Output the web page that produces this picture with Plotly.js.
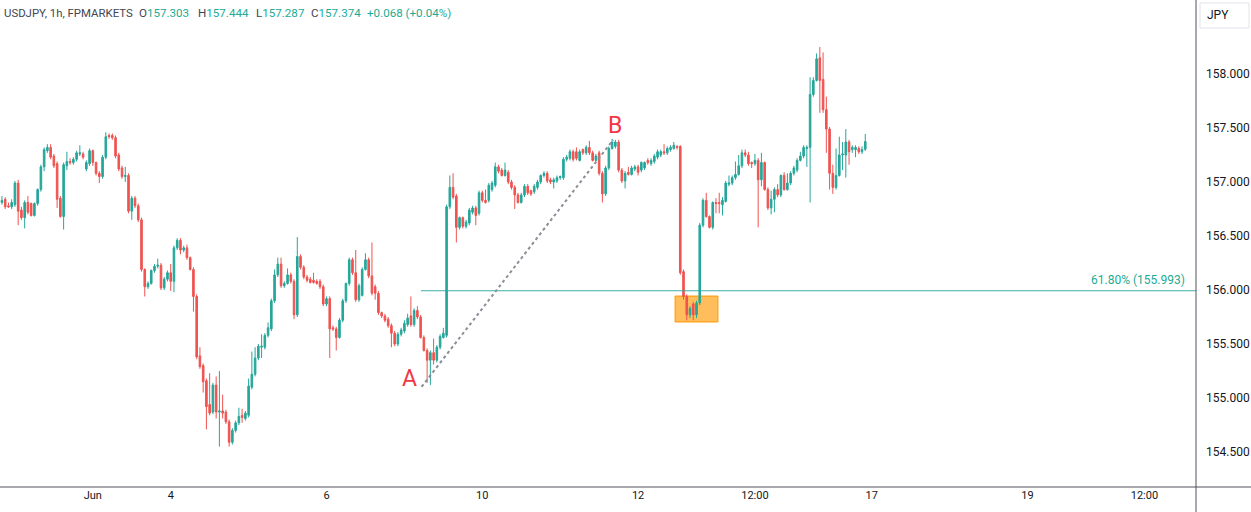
<!DOCTYPE html>
<html>
<head>
<meta charset="utf-8">
<script src="https://cdn.plot.ly/plotly-3.0.1.min.js"></script>
<style>
html,body{margin:0;padding:0;background:#fff;}
#chart{width:1251px;height:512px;}
</style>
</head>
<body>
<div id="chart"></div>
<script>
// USDJPY 1h candles (FPMARKETS), one per trading hour
const openP = [
156.81,156.84,156.78,156.77,156.79,156.99,156.74,156.67,156.81,156.80,
156.69,156.80,156.93,157.14,157.29,157.32,157.24,157.17,156.85,156.68,
157.15,157.19,157.18,157.21,157.26,157.26,157.12,157.17,157.29,157.18,
157.08,157.05,157.23,157.43,157.43,157.41,157.25,157.13,157.05,157.06,
156.73,156.85,156.78,156.65,156.19,156.03,156.06,156.18,156.22,156.23,
156.02,156.10,156.16,156.08,156.39,156.46,156.37,156.39,156.30,156.19,
155.94,155.39,155.30,155.16,154.94,154.87,155.12,154.87,154.88,154.87,
154.78,154.59,154.70,154.77,154.84,154.81,154.84,155.10,155.22,155.37,
155.47,155.47,155.58,155.64,155.90,156.14,156.24,156.04,156.06,156.14,
156.08,155.77,156.31,156.21,156.12,156.10,156.09,156.08,156.08,156.03,
155.87,155.92,155.65,155.64,155.56,155.72,155.90,156.06,156.28,156.16,
155.91,155.95,156.19,156.28,156.13,156.03,155.97,155.79,155.76,155.73,
155.67,155.60,155.50,155.59,155.62,155.68,155.76,155.68,155.81,155.75,
155.56,155.44,155.35,155.42,155.35,155.47,155.56,155.58,156.77,156.95,
156.87,156.58,156.67,156.59,156.62,156.72,156.76,156.71,156.90,156.83,
156.83,156.93,156.97,157.14,157.11,157.06,157.09,157.00,156.95,156.88,
156.81,156.88,156.96,156.92,156.91,156.95,157.00,157.06,157.08,157.02,
157.00,157.01,157.04,157.04,157.21,157.22,157.28,157.28,157.20,157.30,
157.27,157.32,157.27,157.20,157.27,157.08,156.89,157.13,157.31,157.33,
157.37,157.11,157.01,157.09,157.07,157.12,157.14,157.11,157.13,157.20,
157.17,157.19,157.23,157.25,157.28,157.27,157.30,157.31,157.33,157.33,
156.17,155.94,155.77,155.87,155.77,155.88,156.60,156.83,156.68,156.58,
156.81,156.81,156.79,156.82,156.98,156.99,157.04,157.07,157.15,157.27,
157.25,157.18,157.17,157.20,157.02,157.18,156.93,156.76,156.84,156.93,
156.88,157.06,156.93,156.99,157.08,157.11,157.20,157.24,157.31,157.32,
157.81,157.94,158.15,157.95,157.67,157.49,157.08,156.95,157.06,157.25,
157.25,157.37,157.30,157.30,157.31,157.28,157.303];
const highP = [
156.87,156.86,156.81,156.84,157.01,157.02,156.77,156.83,156.87,156.81,
156.81,156.94,157.16,157.32,157.35,157.35,157.26,157.19,156.87,157.18,
157.28,157.22,157.23,157.29,157.34,157.28,157.20,157.31,157.30,157.19,
157.10,157.25,157.46,157.45,157.45,157.43,157.27,157.15,157.14,157.08,
156.87,156.87,156.80,156.67,156.20,156.08,156.19,156.24,156.29,156.25,
156.12,156.18,156.24,156.41,156.48,156.48,156.41,156.42,156.31,156.21,
155.96,155.47,155.32,155.18,155.23,155.14,155.20,155.25,155.03,154.89,
154.80,154.72,154.79,154.91,154.90,154.88,155.18,155.43,155.47,155.50,
155.59,155.60,155.70,155.92,156.19,156.30,156.30,156.08,156.20,156.16,
156.10,156.49,156.33,156.23,156.14,156.12,156.16,156.10,156.10,156.05,
155.94,155.94,155.67,155.66,155.74,155.92,156.07,156.30,156.30,156.37,
156.06,156.21,156.34,156.30,156.44,156.05,155.99,155.80,155.78,155.75,
155.69,155.62,155.61,155.65,155.72,155.78,155.94,155.83,155.85,155.77,
155.58,155.46,155.44,155.55,155.49,155.59,155.65,156.79,157.06,157.08,
156.89,156.68,156.68,156.65,156.76,156.78,156.78,156.92,156.92,156.93,
156.99,157.01,157.18,157.16,157.13,157.18,157.11,157.02,156.97,156.90,
156.90,156.98,156.98,156.93,156.98,157.02,157.07,157.10,157.10,157.04,
157.04,157.06,157.06,157.23,157.25,157.30,157.30,157.32,157.30,157.31,
157.34,157.38,157.29,157.26,157.29,157.10,157.15,157.33,157.40,157.39,
157.39,157.13,157.10,157.14,157.15,157.16,157.16,157.19,157.19,157.22,
157.22,157.26,157.30,157.30,157.35,157.33,157.34,157.37,157.34,157.34,
156.19,155.96,155.85,155.89,155.90,156.62,156.85,156.90,156.69,156.82,
156.85,156.90,156.86,157.01,157.06,157.06,157.19,157.25,157.30,157.30,
157.28,157.19,157.26,157.22,157.27,157.19,156.95,156.92,156.95,156.98,
157.07,157.09,157.08,157.10,157.15,157.22,157.28,157.34,157.34,157.97,
157.97,158.19,158.25,158.20,157.79,157.51,157.16,157.31,157.42,157.37,
157.49,157.39,157.34,157.34,157.33,157.33,157.444];
const lowP = [
156.79,156.75,156.76,156.75,156.77,156.60,156.65,156.57,156.70,156.68,
156.68,156.78,156.91,157.10,157.27,157.21,157.13,156.76,156.67,156.56,
157.11,157.16,157.16,157.19,157.24,157.21,157.10,157.15,157.15,157.06,
156.99,157.03,157.21,157.40,157.39,157.22,157.10,157.03,157.00,156.71,
156.65,156.76,156.63,156.17,155.94,156.01,156.05,156.16,156.20,156.00,
156.00,156.08,155.99,155.98,156.37,156.33,156.35,156.28,156.18,155.80,
155.36,155.27,155.05,154.71,154.84,154.85,154.81,154.55,154.81,154.76,
154.55,154.57,154.68,154.75,154.77,154.79,154.82,155.08,155.20,155.35,
155.37,155.45,155.56,155.62,155.88,156.12,156.02,156.02,156.05,156.06,
155.73,155.75,156.19,156.10,156.07,156.06,156.06,156.05,156.01,155.85,
155.85,155.37,155.62,155.44,155.55,155.70,155.88,156.04,156.14,155.89,
155.89,155.94,156.18,156.11,155.95,155.91,155.77,155.74,155.70,155.65,
155.47,155.48,155.48,155.57,155.60,155.66,155.66,155.66,155.73,155.55,
155.43,155.14,155.12,155.31,155.33,155.45,155.55,155.56,156.75,156.84,
156.44,156.56,156.57,156.57,156.60,156.70,156.60,156.69,156.81,156.80,
156.81,156.91,156.95,157.08,157.05,157.05,156.98,156.93,156.75,156.80,
156.80,156.86,156.88,156.87,156.89,156.93,156.98,157.04,156.99,156.98,
156.94,156.99,157.02,157.02,157.19,157.20,157.19,157.20,157.19,157.25,
157.25,157.25,157.19,157.19,157.06,156.81,156.87,157.11,157.30,157.31,
157.09,156.99,156.94,157.06,157.06,157.10,157.06,157.09,157.11,157.16,
157.15,157.17,157.21,157.23,157.25,157.25,157.28,157.30,157.30,156.14,
155.91,155.72,155.74,155.72,155.74,155.86,156.58,156.67,156.57,156.56,
156.71,156.71,156.69,156.81,156.96,156.97,157.02,157.06,157.13,157.23,
157.15,157.13,157.15,156.58,156.96,156.92,156.74,156.70,156.72,156.86,
156.86,156.92,156.92,156.97,157.06,157.09,157.19,157.22,157.14,156.81,
157.79,157.93,157.64,157.64,157.27,156.93,156.89,156.93,157.05,157.11,
157.04,157.16,157.27,157.23,157.26,157.26,157.287];
const closeP = [
156.83,156.77,156.77,156.81,156.99,156.73,156.67,156.81,156.72,156.69,
156.80,156.93,157.14,157.30,157.32,157.23,157.15,156.84,156.68,157.16,
157.19,157.18,157.21,157.27,157.27,157.23,157.18,157.29,157.18,157.08,
157.05,157.23,157.42,157.42,157.41,157.24,157.12,157.05,157.06,156.73,
156.85,156.78,156.65,156.19,156.03,156.06,156.18,156.22,156.23,156.02,
156.10,156.16,156.08,156.39,156.46,156.37,156.39,156.30,156.19,155.94,
155.38,155.29,155.15,154.92,154.86,155.12,154.87,154.88,154.86,154.78,
154.59,154.70,154.77,154.83,154.82,154.86,155.11,155.22,155.37,155.48,
155.48,155.58,155.65,155.90,156.14,156.24,156.04,156.06,156.14,156.08,
155.77,156.31,156.21,156.12,156.09,156.07,156.07,156.06,156.03,155.87,
155.92,155.64,155.64,155.56,155.72,155.90,156.06,156.28,156.16,155.91,
156.04,156.19,156.28,156.13,155.97,155.97,155.79,155.76,155.72,155.67,
155.60,155.50,155.59,155.63,155.69,155.74,155.68,155.81,155.75,155.56,
155.44,155.35,155.42,155.35,155.47,155.57,155.60,156.77,156.95,156.86,
156.58,156.67,156.59,156.63,156.74,156.76,156.69,156.90,156.83,156.81,
156.97,156.99,157.14,157.10,157.06,157.11,157.00,156.95,156.88,156.81,
156.88,156.96,156.90,156.89,156.96,157.00,157.06,157.08,157.01,157.00,
157.02,157.04,157.05,157.21,157.23,157.28,157.21,157.22,157.28,157.27,
157.32,157.27,157.20,157.24,157.08,156.89,157.13,157.31,157.37,157.37,
157.11,157.01,157.08,157.07,157.13,157.14,157.09,157.18,157.18,157.18,
157.20,157.24,157.28,157.28,157.27,157.31,157.32,157.34,157.32,156.16,
155.94,155.77,155.83,155.77,155.88,156.60,156.83,156.68,156.58,156.81,
156.80,156.80,156.83,156.99,156.99,157.04,157.07,157.15,157.27,157.25,
157.17,157.17,157.20,157.02,157.18,156.93,156.76,156.84,156.93,156.88,
157.06,156.93,156.99,157.08,157.13,157.20,157.24,157.32,157.32,157.81,
157.94,158.14,157.94,157.67,157.49,157.08,156.95,157.06,157.25,157.26,
157.37,157.28,157.32,157.32,157.28,157.30,157.374];

// time axis: trading hours counted from Jun 3 00:00
const firstHour = -28;
const tickHours = [0, 24, 72, 120, 168, 204, 240, 288, 324];
const tickLabels = ['Jun', '4', '6', '10', '12', '12:00', '17', '19', '12:00'];
const priceTicks = [154.5, 155.0, 155.5, 156.0, 156.5, 157.0, 157.5, 158.0];

// drawing tools
const fibLevel = 155.993;
const fibStartHour = 101.1;
const pointA = {h: 101.3, p: 155.104};
const pointB = {h: 160.3, p: 157.389};
const zoneBox = {h0: 179.4, h1: 192.6, p0: 155.704, p1: 155.944};

const hours = openP.map((_, i) => firstHour + i);
const xRange = [-28.6, 339.9];

const UP = '#26a69a', DOWN = '#ef5350';
const trace = {
  type: 'candlestick',
  x: hours, open: openP, high: highP, low: lowP, close: closeP,
  increasing: {line: {color: UP, width: 1}, fillcolor: UP},
  decreasing: {line: {color: DOWN, width: 1}, fillcolor: DOWN},
  whiskerwidth: 0,
  hoverinfo: 'none',
  showlegend: false
};

const FONT = 'Roboto, "Liberation Sans", Arial, sans-serif';
const hdrY = 1 - 13/487;
function hdr(x, html, size) {
  return {xref: 'paper', yref: 'paper', x: x/1196, y: hdrY, xanchor: 'left', yanchor: 'middle',
    text: html, showarrow: false, font: {family: FONT, size: size || 11.6, color: '#434651'}};
}
const G = '#22ab94';
const annotations = [
  hdr(2, 'USDJPY, 1h, FPMARKETS', 11.4),
  hdr(137, 'O<span style="color:' + G + '">157.303</span>'),
  hdr(196, 'H<span style="color:' + G + '">157.444</span>'),
  hdr(254, 'L<span style="color:' + G + '">157.287</span>'),
  hdr(309, 'C<span style="color:' + G + '">157.374</span>'),
  hdr(365, '<span style="color:' + G + '">+0.068 (+0.04%)</span>'),
  {xref: 'x', yref: 'y', x: pointA.h - 3.6, y: 155.185, text: 'A', showarrow: false,
    xanchor: 'center', yanchor: 'middle', font: {family: FONT, size: 23, color: '#f23645'}},
  {xref: 'x', yref: 'y', x: 160.9, y: 157.52, text: 'B', showarrow: false,
    xanchor: 'center', yanchor: 'middle', font: {family: FONT, size: 23, color: '#f23645'}},
  {xref: 'paper', yref: 'y', x: 1187/1196, y: fibLevel, yshift: 2, xanchor: 'right', yanchor: 'bottom',
    text: '61.80% (155.993)', showarrow: false, font: {family: FONT, size: 12, color: G}},
  {xref: 'paper', yref: 'paper', x: 1218/1196, y: 1 - 15/487, xanchor: 'center', yanchor: 'middle',
    text: 'JPY', showarrow: false, font: {family: FONT, size: 12, color: '#131722'}}
];

const shapes = [
  {type: 'rect', xref: 'x', yref: 'y', x0: zoneBox.h0, x1: zoneBox.h1, y0: zoneBox.p0, y1: zoneBox.p1,
    fillcolor: 'rgba(255,167,38,0.75)', line: {color: '#ff9800', width: 1}, layer: 'below'},
  {type: 'line', xref: 'x', yref: 'y', x0: fibStartHour, x1: xRange[1], y0: fibLevel, y1: fibLevel,
    line: {color: 'rgba(38,166,154,0.9)', width: 1}},
  {type: 'line', xref: 'x', yref: 'y', x0: pointA.h, y0: pointA.p, x1: pointB.h, y1: pointB.p,
    line: {color: '#8a8d96', width: 2, dash: 'dot'}},
  {type: 'line', xref: 'paper', yref: 'paper', x0: 1, x1: 1, y0: -25/487, y1: 1,
    line: {color: '#50535e', width: 1}},
  {type: 'line', xref: 'paper', yref: 'paper', x0: 0, x1: 1251/1196, y0: 0, y1: 0,
    line: {color: '#50535e', width: 1}},
  {type: 'rect', xref: 'paper', yref: 'paper', x0: 1200/1196, x1: 1249/1196, y0: 1 - 28/487, y1: 1 - 3/487,
    line: {color: '#e0e3eb', width: 1}, fillcolor: 'rgba(0,0,0,0)'}
];

const layout = {
  width: 1251, height: 512,
  margin: {l: 0, r: 55, t: 0, b: 25, pad: 0},
  paper_bgcolor: '#ffffff', plot_bgcolor: '#ffffff',
  font: {family: FONT, size: 12, color: '#131722'},
  xaxis: {
    type: 'linear', range: xRange, rangeslider: {visible: false},
    showgrid: false, zeroline: false, showline: false, ticks: '',
    tickmode: 'array', tickvals: tickHours, ticktext: tickLabels,
    tickfont: {family: FONT, size: 11, color: '#131722'}, fixedrange: true
  },
  yaxis: {
    side: 'right', range: [154.176, 158.685],
    showgrid: false, zeroline: false, showline: false, ticks: '',
    tickmode: 'array', tickvals: priceTicks, tickformat: '.3f',
    ticklabelstandoff: 9,
    tickfont: {family: FONT, size: 12, color: '#131722'}, fixedrange: true
  },
  shapes: shapes,
  annotations: annotations,
  showlegend: false
};

Plotly.newPlot('chart', [trace], layout, {displayModeBar: false, staticPlot: true});
</script>
</body>
</html>
